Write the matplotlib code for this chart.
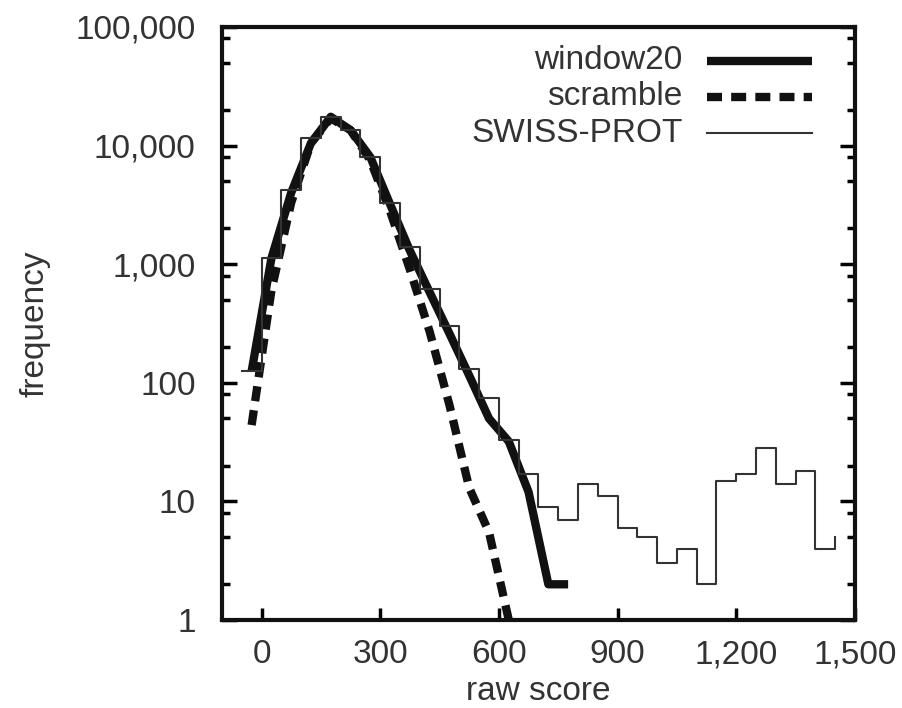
import matplotlib.pyplot as plt
from matplotlib.ticker import FixedLocator, LogLocator, FuncFormatter, NullFormatter

plt.rcParams['font.family'] = ['Liberation Sans', 'DejaVu Sans']

# SWISS-PROT histogram: left bin edges (width 50) and counts
swiss_x = [-50, 0, 50, 100, 150, 200, 250, 300, 350, 400, 450, 500, 550, 600, 650,
           700, 750, 800, 850, 900, 950, 1000, 1050, 1100, 1150, 1200, 1250, 1300,
           1350, 1400, 1450]
swiss_y = [125, 1130, 4200, 11500, 17500, 13500, 8000, 3300, 1400, 620, 300, 130,
           75, 33, 17, 9, 7, 14, 11, 6, 5, 3, 4, 2, 15, 17, 28, 14, 18, 4, 5]

# window20 curve (bin centres)
win_x = [-25, 25, 75, 125, 175, 225, 275, 325, 375, 425, 475, 525, 575, 625, 675, 725, 775]
win_y = [125, 1120, 4000, 10500, 17500, 13500, 8000, 3200, 1300, 580, 260, 115, 50, 32, 12, 2, 2]

# scramble curve
scr_x = [-25, 25, 75, 125, 175, 225, 275, 325, 375, 425, 475, 525, 575, 625]
scr_y = [44, 600, 3300, 10500, 17000, 13500, 7500, 2800, 900, 270, 65, 13, 5.5, 1]

labels = ['window20', 'scramble', 'SWISS-PROT']
xticks = [0, 300, 600, 900, 1200, 1500]

txt = '#333333'
fs = 24

fig = plt.figure(figsize=(9.03, 7.08), dpi=100)
ax = fig.add_axes([0.2458, 0.1243, 0.701, 0.8376])

ax.plot(win_x, win_y, color='#111111', lw=6, solid_capstyle='butt', solid_joinstyle='round')
ax.plot(scr_x, scr_y, color='#111111', lw=6, linestyle=(0, (1.8, 1.1)), dash_capstyle='butt')
ax.step(swiss_x, swiss_y, where='post', color='#333333', lw=1.5)

ax.set_yscale('log')
ax.set_xlim(-100, 1500)
ax.set_ylim(1, 100000)

ax.xaxis.set_major_locator(FixedLocator(xticks))
fmt = FuncFormatter(lambda v, p: f'{int(round(v)):,}')
ax.xaxis.set_major_formatter(fmt)
ax.yaxis.set_major_locator(LogLocator(base=10, numticks=10))
ax.yaxis.set_major_formatter(fmt)
ax.yaxis.set_minor_locator(LogLocator(base=10, subs=[2, 5, 8], numticks=10))
ax.yaxis.set_minor_formatter(NullFormatter())

ax.tick_params(axis='y', which='major', direction='in', length=11, width=2.5,
               right=True, labelsize=fs, labelcolor=txt, pad=19)
ax.tick_params(axis='y', which='minor', direction='in', length=6, width=2.5, right=True)
ax.tick_params(axis='x', which='major', direction='in', length=9, width=2.5,
               top=False, labelsize=fs, labelcolor=txt, pad=14)
for s in ax.spines.values():
    s.set_linewidth(3)
    s.set_color('#111111')

ax.set_xlabel('raw score', fontsize=fs, color=txt, labelpad=4)
ax.set_ylabel('frequency', fontsize=fs, color=txt, labelpad=18)

# gnuplot-style key: right-justified text followed by sample line
key_y = [0.943, 0.882, 0.821]
styles = [dict(lw=6, solid_capstyle='butt'),
          dict(lw=6, linestyle=(0, (1.8, 1.1)), dash_capstyle='butt'),
          dict(lw=1.5, color='#333333')]
for lab, yy, st in zip(labels, key_y, styles):
    ax.text(0.728, yy, lab, transform=ax.transAxes, ha='right', va='center',
            fontsize=fs, color=txt)
    kw = dict(color='#111111')
    kw.update(st)
    ax.plot([0.766, 0.932], [yy, yy], transform=ax.transAxes, **kw)

fig.savefig('out.png', dpi=100)
